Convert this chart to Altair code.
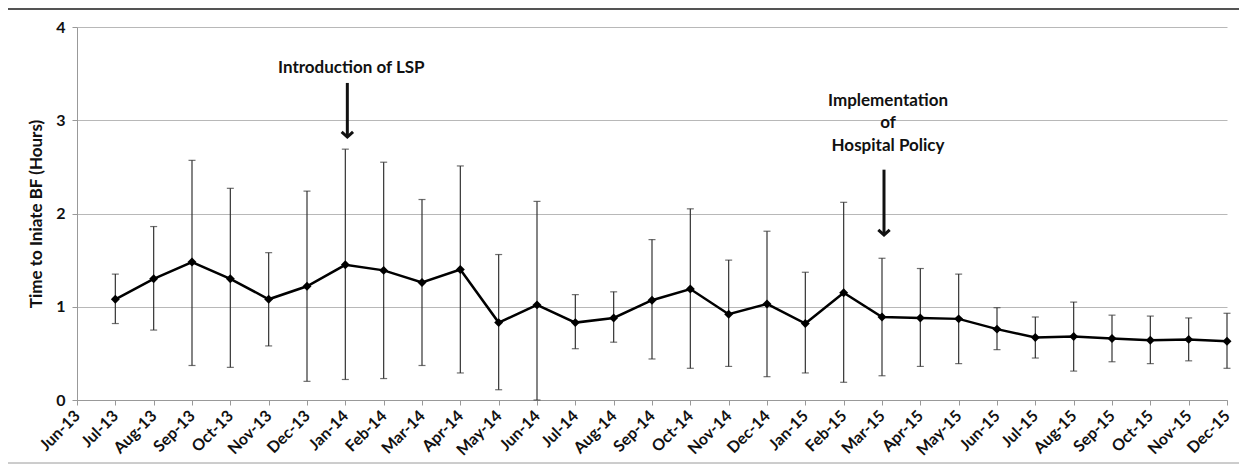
import altair as alt
import pandas as pd

months = ["Jun-13", "Jul-13", "Aug-13", "Sep-13", "Oct-13", "Nov-13", "Dec-13",
          "Jan-14", "Feb-14", "Mar-14", "Apr-14", "May-14", "Jun-14", "Jul-14",
          "Aug-14", "Sep-14", "Oct-14", "Nov-14", "Dec-14", "Jan-15", "Feb-15",
          "Mar-15", "Apr-15", "May-15", "Jun-15", "Jul-15", "Aug-15", "Sep-15",
          "Oct-15", "Nov-15", "Dec-15"]
data_months = months[1:]
mean_hours = [1.08, 1.30, 1.48, 1.30, 1.08, 1.22, 1.45, 1.39, 1.26, 1.40, 0.83, 1.02,
              0.83, 0.88, 1.07, 1.19, 0.92, 1.03, 0.82, 1.15, 0.89, 0.88, 0.87, 0.76,
              0.67, 0.68, 0.66, 0.64, 0.65, 0.63]
upper_hours = [1.35, 1.86, 2.57, 2.27, 1.58, 2.24, 2.69, 2.55, 2.15, 2.51, 1.56, 2.13,
               1.13, 1.16, 1.72, 2.05, 1.50, 1.81, 1.37, 2.12, 1.52, 1.41, 1.35, 0.99,
               0.89, 1.05, 0.91, 0.90, 0.88, 0.93]
lower_hours = [0.82, 0.75, 0.37, 0.35, 0.58, 0.20, 0.22, 0.23, 0.37, 0.29, 0.11, 0.00,
               0.55, 0.62, 0.44, 0.34, 0.36, 0.25, 0.29, 0.19, 0.26, 0.36, 0.39, 0.54,
               0.45, 0.31, 0.41, 0.39, 0.42, 0.34]

ann_labels = ["Introduction of LSP", "Implementation", "of", "Hospital Policy"]
ann_months = ["Jan-14", "Mar-15", "Mar-15", "Mar-15"]
ann_y = [3.56, 3.21, 2.97, 2.72]

arrow_months = ["Jan-14", "Mar-15"]
arrow_top = [3.40, 2.47]
arrow_tip = [2.82, 1.77]

y_ticks = [0, 1, 2, 3, 4]

df = pd.DataFrame({"month": data_months, "mean": mean_hours,
                   "upper": upper_hours, "lower": lower_hours})
ann_df = pd.DataFrame({"month": ann_months, "label": ann_labels, "y": ann_y})
arr_df = pd.DataFrame({"month": arrow_months, "top": arrow_top, "tip": arrow_tip})

FONT = "Lato"
x_scale = alt.Scale(domain=months, type="point", padding=0)
y_scale = alt.Scale(domain=[0, 4])

x_axis = alt.Axis(labelAngle=-45, labelFont=FONT, labelFontWeight="bold",
                  labelFontSize=16, labelColor="#111", domainColor="#999",
                  tickColor="#999", tickSize=5, labelPadding=8,
                  labelAlign="right", labelBaseline="middle", grid=False,
                  title=None)
y_axis = alt.Axis(values=y_ticks, labelFont=FONT, labelFontWeight="bold",
                  labelFontSize=16, labelColor="#111", domainColor="#999",
                  tickColor="#999", tickSize=5, labelPadding=7,
                  gridColor="#b8b8b8", grid=True,
                  title="Time to Iniate BF (Hours)", titleFont=FONT,
                  titleFontWeight="bold", titleFontSize=17, titleColor="#111",
                  titlePadding=10)


def X():
    return alt.X("month:N", scale=x_scale, sort=months, axis=x_axis, title=None)


def Y(field):
    return alt.Y(field, scale=y_scale, axis=y_axis, title="Time to Iniate BF (Hours)")


base = alt.Chart(df)

err = base.mark_rule(color="#333", strokeWidth=1.2).encode(
    x=X(), y=Y("lower:Q"), y2="upper:Q",
)

caps = base.transform_fold(["upper", "lower"], as_=["kind", "val"]).mark_tick(
    color="#333", thickness=1.2, size=7
).encode(x=X(), y=Y("val:Q"))

line = base.mark_line(color="black", strokeWidth=2.5).encode(x=X(), y=Y("mean:Q"))

pts = base.mark_point(shape="diamond", filled=True, color="black", size=80,
                      opacity=1).encode(x=X(), y=Y("mean:Q"))

ann_text = alt.Chart(ann_df).mark_text(
    font=FONT, fontWeight="bold", fontSize=17, color="#111", dx=6
).encode(x=X(), y=Y("y:Q"), text="label:N")

arrow_line = alt.Chart(arr_df).mark_rule(color="#111", strokeWidth=3, xOffset=2).encode(
    x=X(), y=Y("top:Q"), y2="tip:Q",
)

arrow_head = alt.Chart(arr_df).mark_point(
    shape="M-1,-0.9L0,0L1,-0.9", filled=False, color="#111", strokeWidth=3,
    size=130, opacity=1, xOffset=2
).encode(x=X(), y=Y("tip:Q"))

top_border = alt.Chart(df).mark_rule(color="#555", strokeWidth=1.5).encode(
    x=alt.value(-69), x2=alt.value(1162), y=alt.value(-18)
)
bottom_border = alt.Chart(df).mark_rule(color="#ccc", strokeWidth=1).encode(
    x=alt.value(-69), x2=alt.value(1162), y=alt.value(436)
)

chart = alt.layer(
    err, caps, line, pts, arrow_line, arrow_head, ann_text, top_border, bottom_border
).properties(
    width=1150, height=373,
    background="white",
    autosize=alt.AutoSizeParams(type="none"),
    padding={"left": 69, "top": 19, "right": 12, "bottom": 65},
).configure_view(stroke=None)

chart.save("out.html", embed_options={"renderer": "svg", "actions": False})
